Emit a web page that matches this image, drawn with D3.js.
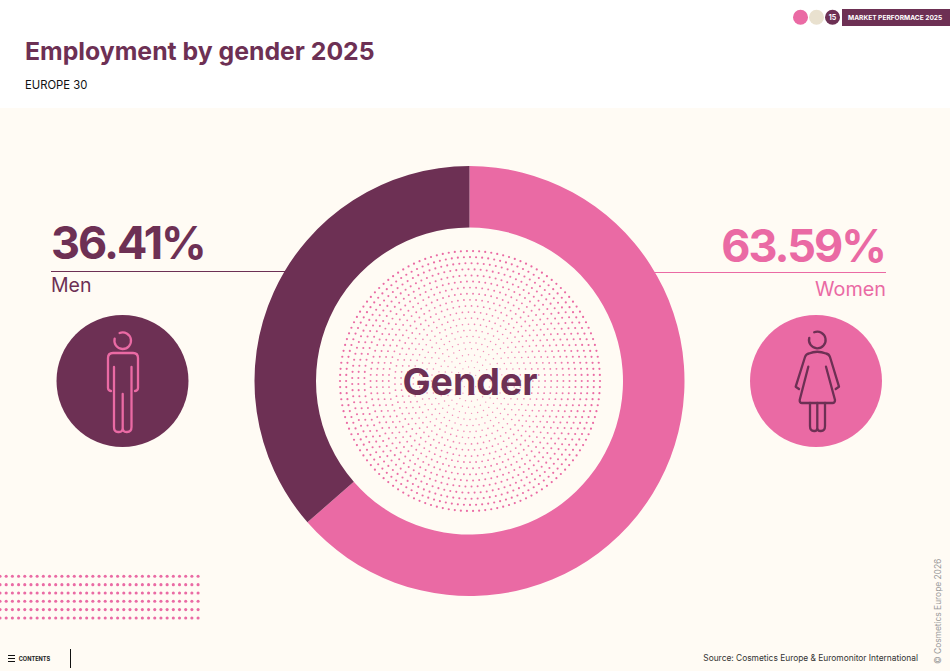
<!DOCTYPE html>
<meta charset="utf-8">
<style>
html, body { margin: 0; padding: 0; background: #fff; }
svg { display: block; }
text { font-family: 'Inter', 'Noto Sans', sans-serif; }
</style>
<svg id="chart" width="950" height="671"></svg>
<script src="https://d3js.org/d3.v7.min.js"></script>
<script>
const genders = ["Women", "Men"];
const shares = [63.59, 36.41];
const colours = ["#ea6aa4", "#6d3054"];

const svg = d3.select("#chart");
const cream = "#fffbf4";

svg.append("rect").attr("y", 108).attr("width", 950).attr("height", 563).attr("fill", cream);

// header
svg.append("text").attr("x", 25).attr("y", 60).attr("font-size", 24.8).attr("font-weight", 700)
  .attr("fill", "#6d3054").text("Employment by gender 2025");
svg.append("text").attr("x", 25).attr("y", 89).attr("font-size", 11.3).attr("fill", "#111").text("EUROPE 30");

svg.append("circle").attr("cx", 800.5).attr("cy", 17.3).attr("r", 7.5).attr("fill", "#ea6aa4");
svg.append("circle").attr("cx", 816.5).attr("cy", 17.3).attr("r", 7.5).attr("fill", "#e9e1cf");
svg.append("circle").attr("cx", 832.5).attr("cy", 17.3).attr("r", 7.5).attr("fill", "#6d3054");
svg.append("text").attr("x", 832.5).attr("y", 20).attr("text-anchor", "middle").attr("font-size", 7)
  .attr("font-weight", 700).attr("fill", "#fff").text("15");
svg.append("rect").attr("x", 842).attr("y", 9).attr("width", 108).attr("height", 17).attr("fill", "#6d3054");
svg.append("text").attr("x", 848).attr("y", 20).attr("font-size", 6.6).attr("font-weight", 700)
  .attr("fill", "#fff").text("MARKET PERFORMACE 2025");

// donut
const cx = 469.5, cy = 381;
const pie = d3.pie().sort(null)(shares);
const arc = d3.arc().innerRadius(153.5).outerRadius(215);
svg.append("g").attr("transform", `translate(${cx},${cy})`)
  .selectAll("path").data(pie).join("path")
  .attr("d", arc)
  .attr("fill", (d, i) => colours[i]);

// dotted disc in the middle of the donut
const dots = svg.append("g").attr("transform", `translate(470,${cy})`).attr("fill", "#ea6aa4");
const ringGap = 6.1;
d3.range(21).forEach(i => {
  const r = 130 - i * ringGap;
  const n = Math.round(2 * Math.PI * r / ringGap);
  const t = r / 130;
  d3.range(n).forEach(k => {
    const a = 2 * Math.PI * k / n;
    dots.append("circle")
      .attr("cx", r * Math.cos(a))
      .attr("cy", r * Math.sin(a))
      .attr("r", 0.6 + 0.5 * t)
      .attr("opacity", 0.65 + 0.35 * t);
  });
});

svg.append("text").attr("x", 470).attr("y", 395).attr("text-anchor", "middle")
  .attr("font-size", 37.5).attr("font-weight", 700).attr("fill", "#6d3054").text("Gender");

// labels either side
function fmt(v) { return d3.format(".2f")(v) + "%"; }

svg.append("text").attr("x", 51).attr("y", 259).attr("font-size", 45).attr("font-weight", 700)
  .attr("letter-spacing", -2).attr("fill", colours[1]).text(fmt(shares[1]));
svg.append("line").attr("x1", 51).attr("x2", 288).attr("y1", 271.5).attr("y2", 271.5)
  .attr("stroke", colours[1]).attr("stroke-width", 1);
svg.append("text").attr("x", 51).attr("y", 292).attr("font-size", 19.5).attr("fill", colours[1]).text(genders[1]);

svg.append("text").attr("x", 885).attr("y", 262).attr("text-anchor", "end").attr("font-size", 45).attr("font-weight", 700)
  .attr("letter-spacing", -2).attr("fill", colours[0]).text(fmt(shares[0]));
svg.append("line").attr("x1", 654).attr("x2", 886).attr("y1", 272.5).attr("y2", 272.5)
  .attr("stroke", colours[0]).attr("stroke-width", 1);
svg.append("text").attr("x", 886).attr("y", 296).attr("text-anchor", "end").attr("font-size", 19.8).attr("fill", colours[0]).text(genders[0]);

// icons
svg.append("circle").attr("cx", 122.5).attr("cy", 381).attr("r", 66).attr("fill", colours[1]);
svg.append("circle").attr("cx", 816).attr("cy", 381).attr("r", 66).attr("fill", colours[0]);

const head = d3.arc().innerRadius(8.3).outerRadius(8.3).startAngle(-0.38).endAngle(4.97)();

const man = svg.append("g").attr("fill", "none").attr("stroke", colours[0]).attr("stroke-width", 2.3)
  .attr("stroke-linecap", "round").attr("stroke-linejoin", "round");
man.append("path").attr("d", head).attr("transform", "translate(122.7,340.7)");
man.append("path").attr("d", "M111,391Q108,390.5 108,388V358Q108,353 113,353H133Q138,353 138,358V388Q138,390.5 135,391");
man.append("path").attr("d", "M114,367V427Q114,432 118,432H119Q122.7,432 122.7,428Q122.7,432 126.5,432H127Q131.5,432 131.5,427V367M122.7,394V428");

const woman = svg.append("g").attr("fill", "none").attr("stroke", colours[1]).attr("stroke-width", 2.3)
  .attr("stroke-linecap", "round").attr("stroke-linejoin", "round");
woman.append("path").attr("d", head).attr("transform", "translate(817.3,340)");
woman.append("path").attr("d", "M799,389L795.7,386.7L805,357Q806,354 809,353.5Q817,350 826,353.5Q829,354 830,357L839,386.7L835.7,389");
woman.append("path").attr("d", "M808.3,366.7L799.7,400Q799.5,403 802,403H832.5Q835,403 835,400L826,366.7");
woman.append("path").attr("d", "M810,403V426Q810,431 814,431H814.5Q817.3,431 817.3,428Q817.3,431 820.5,431H821Q825,431 825,426V403M817.3,403V428");

// dot strip at the bottom left
const strip = svg.append("g").attr("fill", "#ea6aa4");
d3.range(6).forEach(row => {
  d3.range(33).forEach(col => {
    strip.append("circle").attr("cx", col * 6.19).attr("cy", 576.3 + row * 8.33).attr("r", 1.55);
  });
});

// footer
svg.append("path").attr("d", "M8,655.5H15M8,658.5H15M8,661.5H15").attr("stroke", "#111").attr("stroke-width", 1);
svg.append("text").attr("x", 18.7).attr("y", 661).attr("font-size", 5.6).attr("font-weight", 700).attr("fill", "#222").text("CONTENTS");
svg.append("line").attr("x1", 70.5).attr("x2", 70.5).attr("y1", 649).attr("y2", 668).attr("stroke", "#111").attr("stroke-width", 1);
svg.append("text").attr("x", 918).attr("y", 661).attr("text-anchor", "end").attr("font-size", 8.4).attr("fill", "#333")
  .text("Source: Cosmetics Europe & Euromonitor International");
svg.append("text").attr("transform", "translate(941,664) rotate(-90)").attr("font-size", 8.4).attr("fill", "#999")
  .text("© Cosmetics Europe 2026");
</script>
